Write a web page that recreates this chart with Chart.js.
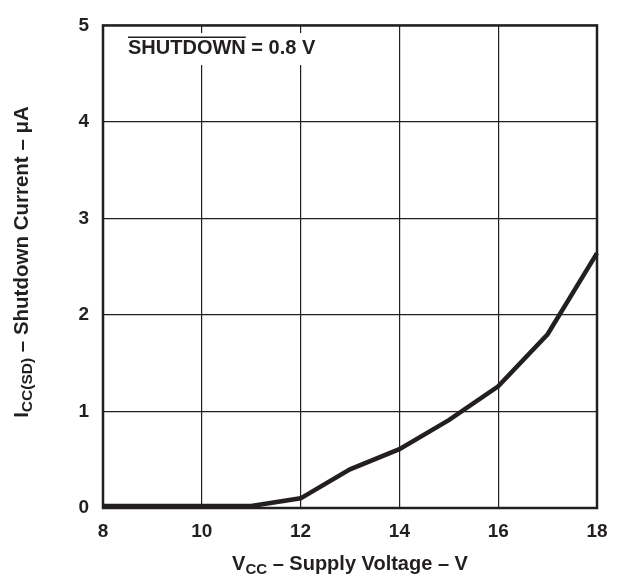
<!DOCTYPE html>
<html>
<head>
<meta charset="utf-8">
<title>Shutdown Current vs Supply Voltage</title>
<script src="https://cdn.jsdelivr.net/npm/chart.js"></script>
<style>
  html, body { margin: 0; padding: 0; background: #fff; }
  #wrap { width: 620px; height: 580px; }
</style>
</head>
<body>
<div id="wrap"><canvas id="myChart" width="620" height="580"></canvas></div>
<script>
// supply voltage (V) and shutdown current (uA)
const vcc = [8, 9, 10, 11, 12, 13, 14, 15, 16, 17, 18];
const iccSd = [0.02, 0.02, 0.02, 0.02, 0.1, 0.4, 0.61, 0.91, 1.26, 1.8, 2.64];
const xTicks = [8, 10, 12, 14, 16, 18];
const yTicks = [0, 1, 2, 3, 4, 5];

const ink = '#231f20';
const fontFamily = '"Liberation Sans", Arial, Helvetica, sans-serif';

// draws text pieces in a row, some of them as subscripts
function drawRuns(ctx, runs, x, y) {
    let total = 0;
    runs.forEach(r => {
        ctx.font = 'bold ' + r.size + 'px ' + fontFamily;
        total += ctx.measureText(r.text).width;
    });
    let cx = x - total / 2;
    runs.forEach(r => {
        ctx.font = 'bold ' + r.size + 'px ' + fontFamily;
        ctx.fillText(r.text, cx, y + (r.dy || 0));
        cx += ctx.measureText(r.text).width;
    });
}

const extras = {
    id: 'extras',
    afterDatasetsDraw(chart) {
        const { ctx, chartArea: a } = chart;
        ctx.save();

        // plot frame
        ctx.strokeStyle = ink;
        ctx.lineWidth = 2.5;
        ctx.strokeRect(a.left, a.top, a.right - a.left, a.bottom - a.top);

        // condition note, on a white patch that breaks the grid
        ctx.fillStyle = '#fff';
        ctx.fillRect(122, 33, 206, 32);
        ctx.fillStyle = ink;
        ctx.textAlign = 'left';
        ctx.textBaseline = 'alphabetic';
        ctx.font = 'bold 20px ' + fontFamily;
        const word = 'SHUTDOWN';
        ctx.fillText(word + ' = 0.8 V', 128, 54);
        const w = ctx.measureText(word).width;
        ctx.fillRect(128, 36.5, w, 1.5);

        // x title
        drawRuns(ctx, [
            { text: 'V', size: 20 },
            { text: 'CC', size: 15, dy: 4 },
            { text: ' \u2013 Supply Voltage \u2013 V', size: 20 }
        ], (a.left + a.right) / 2, 570);

        // y title
        ctx.translate(28, 262);
        ctx.rotate(-Math.PI / 2);
        drawRuns(ctx, [
            { text: 'I', size: 20.5 },
            { text: 'CC(SD)', size: 15.5, dy: 4 },
            { text: ' \u2013 Shutdown Current \u2013 \u03bcA', size: 20.5 }
        ], 0, 0);

        ctx.restore();
    }
};

const ctx = document.getElementById('myChart').getContext('2d');
new Chart(ctx, {
    type: 'line',
    data: {
        datasets: [{
            data: vcc.map((v, i) => ({ x: v, y: iccSd[i] })),
            borderColor: ink,
            borderWidth: 4.5,
            pointRadius: 0,
            tension: 0,
            fill: false,
            clip: false
        }]
    },
    options: {
        responsive: false,
        animation: false,
        events: [],
        layout: { padding: { top: 16, right: 23, left: 0, bottom: 0 } },
        plugins: {
            legend: { display: false },
            tooltip: { enabled: false }
        },
        scales: {
            x: {
                type: 'linear',
                min: 8,
                max: 18,
                afterBuildTicks: (axis) => { axis.ticks = xTicks.map(v => ({ value: v })); },
                afterFit: (axis) => { axis.height = 72; },
                grid: { color: ink, lineWidth: 1.2, drawTicks: false },
                border: { display: false },
                ticks: {
                    color: ink,
                    padding: 12,
                    maxRotation: 0,
                    font: { family: fontFamily, size: 19, weight: 'bold' }
                }
            },
            y: {
                min: 0,
                max: 5,
                afterBuildTicks: (axis) => { axis.ticks = yTicks.map(v => ({ value: v })); },
                afterFit: (axis) => { axis.width = 103; },
                grid: { color: ink, lineWidth: 1.2, drawTicks: false },
                border: { display: false },
                ticks: {
                    color: ink,
                    padding: 14,
                    font: { family: fontFamily, size: 19, weight: 'bold' }
                }
            }
        }
    },
    plugins: [extras]
});
</script>
</body>
</html>
